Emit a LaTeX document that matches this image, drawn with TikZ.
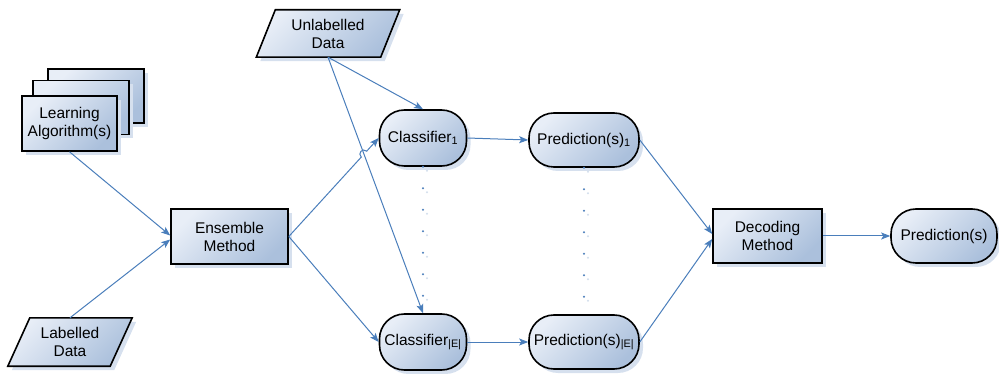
\documentclass[tikz,border=0pt]{standalone}
\usepackage{fontspec}
\setmainfont{Liberation Sans}
\usetikzlibrary{arrows.meta,shadows,calc,backgrounds}

\definecolor{edgeblue}{HTML}{4A7EBB}
\definecolor{boxlight}{HTML}{E8EEF7}
\definecolor{boxdark}{HTML}{ABC0DC}
\definecolor{shadowc}{HTML}{D6E0EE}
\definecolor{dotshade}{HTML}{D3DEEC}

\tikzset{
  boxfill/.style={top color=boxlight, bottom color=boxdark, shading angle=45},
  boxshadow/.style={drop shadow={shadow xshift=4pt, shadow yshift=-4pt, fill=shadowc, opacity=1}},
  procbox/.style={draw=black, line width=1.6pt, boxfill, boxshadow, align=center, inner sep=0pt},
  termbox/.style={procbox, rounded corners=25pt},
  databox/.style={align=center, inner sep=0pt},
  slantshape/.style={draw=black, line width=1.6pt, boxfill, boxshadow},
  flow/.style={draw=edgeblue, line width=1pt, -{Stealth[length=9pt,width=7pt,inset=2pt]}},
  dotline/.style={draw=edgeblue, line width=2.2pt, line cap=round, dash pattern=on 0pt off 21.5pt},
  dotshadow/.style={dotline, draw=dotshade},
}

\begin{document}
\begin{tikzpicture}[x=1pt, y=-1pt, font=\fontsize{15.5}{18}\selectfont]
\useasboundingbox (0,0) rectangle (999,374);

% stack of learning algorithms
\node[procbox, minimum width=96pt, minimum height=54pt] (la3) at (96,96) {};
\node[procbox, minimum width=96pt, minimum height=54pt] (la2) at (81,107.5) {};
\node[procbox, minimum width=95pt, minimum height=55pt] (la1) at (69.5,123.5) {Learning\\Algorithm(s)};

% data inputs (parallelograms drawn behind their text)
\node[databox, minimum width=124pt, minimum height=47pt] (ud) at (328,33.5) {Unlabelled\\Data};
\node[databox, minimum width=102pt, minimum height=48pt] (ld) at (70,342) {Labelled\\Data};
\begin{pgfonlayer}{background}
  \path[slantshape] ($(ud.north west)+(9.5,0)$) -- ($(ud.north east)+(9.5,0)$)
     -- ($(ud.south east)+(-9.5,0)$) -- ($(ud.south west)+(-9.5,0)$) -- cycle;
  \path[slantshape] ($(ld.north west)+(11,0)$) -- ($(ld.north east)+(11,0)$)
     -- ($(ld.south east)+(-11,0)$) -- ($(ld.south west)+(-11,0)$) -- cycle;
\end{pgfonlayer}

% processing steps
\node[procbox, minimum width=117pt, minimum height=55pt] (ens) at (229.5,236.5) {Ensemble\\Method};
\node[procbox, minimum width=109pt, minimum height=54pt] (dec) at (767.5,236) {Decoding\\Method};

% classifiers and their predictions
\node[termbox, minimum width=87pt, minimum height=56pt] (c1) at (423,138) {Classifier\textsubscript{1}};
\node[termbox, minimum width=87pt, minimum height=56pt] (cE) at (423,342) {Classifier\textsubscript{|E|}};
\node[termbox, minimum width=110pt, minimum height=54pt] (p1) at (584,140) {Prediction(s)\textsubscript{1}};
\node[termbox, minimum width=110pt, minimum height=54pt] (pE) at (584,342) {Prediction(s)\textsubscript{|E|}};
\node[termbox, minimum width=106pt, minimum height=54pt] (out) at (944,236) {Prediction(s)};

% dotted continuation between first and last members
\draw[dotshadow] ([xshift=4pt,yshift=-4pt]c1.south) -- ([xshift=4pt,yshift=-4pt]cE.north);
\draw[dotshadow] ([xshift=4pt,yshift=-4pt]p1.south) -- ([xshift=4pt,yshift=-4pt]pE.north);
\draw[dotline] (c1.south) -- (cE.north);
\draw[dotline] (p1.south) -- (pE.north);

% connectors
\draw[flow] (la1.south) -- ([yshift=1pt]ens.west);
\draw[flow] (ld.north) -- ([yshift=-3pt]ens.west);

\draw[flow] (ud.south) -- (c1.north);
\draw[flow] (ud.south) -- (cE.north);

% ensemble to first classifier, hopping over the unlabelled-data line
\coordinate (hx) at (intersection of ens.east--c1.west and ud.south--cE.north);
\coordinate (h1) at ($(hx)!4pt!(ens.east)$);
\coordinate (h2) at ($(hx)!4pt!(c1.west)$);
\draw[flow] (ens.east) -- (h1)
   .. controls ($(h1)!5.5pt!90:(hx)$) and ($(h2)!5.5pt!-90:(hx)$) .. (h2)
   -- (c1.west);
\draw[flow] (ens.east) -- (cE.west);

\draw[flow] (c1.east) -- (p1.west);
\draw[flow] (cE.east) -- (pE.west);

\draw[flow] (p1.east) -- ([yshift=2pt]dec.west);
\draw[flow] (pE.east) -- ([yshift=-3pt]dec.west);

\draw[flow] (dec.east) -- (out.west);
\end{tikzpicture}
\end{document}
